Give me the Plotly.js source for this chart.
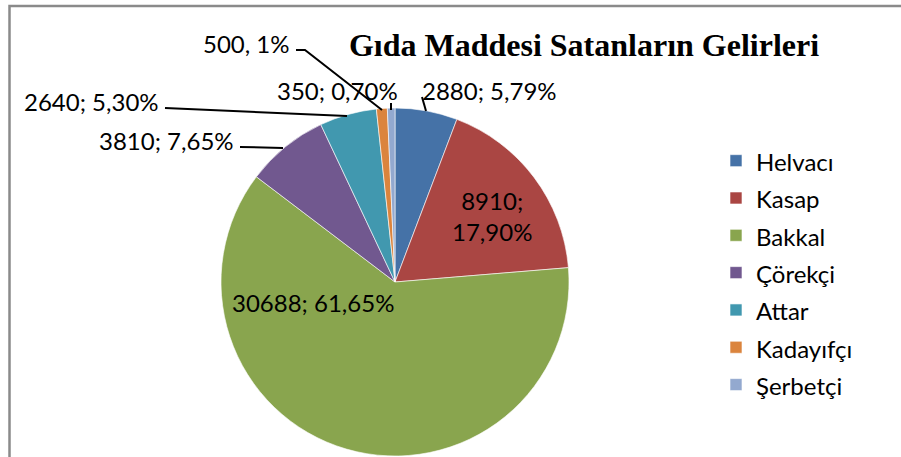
<!DOCTYPE html>
<html>
<head>
<meta charset="utf-8">
<script src="https://cdn.plot.ly/plotly-3.0.1.min.js"></script>
<style>html,body{margin:0;padding:0;background:#fff;}#chart{width:901px;height:457px;}</style>
</head>
<body>
<div id="chart"></div>
<script>
// ---- data ----
var categories = ["Helvacı", "Kasap", "Bakkal", "Çörekçi", "Attar", "Kadayıfçı", "Şerbetçi"];
var values = [2880, 8910, 30688, 3810, 2640, 500, 350];
var percentLabels = ["5,79%", "17,90%", "61,65%", "7,65%", "5,30%", "1%", "0,70%"];
var separators = [";", ";<br>", ";", ";", ";", ",", ";"];
var colors = ["#4572A7", "#AA4643", "#89A54E", "#71588F", "#4198AF", "#DB843D", "#93A9CF"];

var W = 901, H = 457;
function px(x) { return x / W; }
function py(y) { return 1 - y / H; }

// label centres (pixels) and leader lines
var labelPos = [[490, 90], [492, 216], [313, 302], [166, 140], [91, 101], [246, 43], [337, 90]];
var leaders = [
  [[422, 97], [426, 111]],
  null,
  null,
  [[240, 147], [283, 148]],
  [[165, 108], [347, 116]],
  [[296, 50], [305, 50], [382, 110]],
  [[391, 103], [391, 110]]
];

var annotations = categories.map(function (c, i) {
  var sep = separators[i];
  var txt = values[i] + sep + (sep.indexOf("<br>") >= 0 ? "" : " ") + percentLabels[i];
  return {
    xref: "paper", yref: "paper",
    x: px(labelPos[i][0]), y: py(labelPos[i][1]),
    xanchor: "center", yanchor: "middle",
    text: txt, showarrow: false,
    font: {family: "Lato, 'Open Sans', sans-serif", size: 24, color: "#000"}
  };
});

var shapes = [{
  type: "rect", xref: "paper", yref: "paper",
  x0: px(9.5), x1: 1.05, y0: -0.05, y1: py(6),
  line: {color: "#8a8a8a", width: 2.5}, fillcolor: "rgba(0,0,0,0)", layer: "below"
}];
leaders.forEach(function (pts) {
  if (!pts) return;
  var d = pts.map(function (p, k) { return (k ? "L" : "M") + px(p[0]) + "," + py(p[1]); }).join(" ");
  shapes.push({type: "path", xref: "paper", yref: "paper", path: d, line: {color: "#000", width: 2}});
});

var trace = {
  type: "pie",
  labels: categories.map(function (c) { return '<span style="font-size:24px">' + c + '</span>'; }),
  values: values,
  sort: false,
  direction: "clockwise",
  rotation: 0,
  textinfo: "none",
  hoverinfo: "label+value+percent",
  marker: {colors: colors, line: {color: "rgba(255,255,255,0.6)", width: 1}},
  domain: {x: [px(221), px(569)], y: [py(456), py(108)]}
};

var layout = {
  width: W, height: H,
  margin: {l: 0, r: 0, t: 0, b: 0},
  paper_bgcolor: "#fff",
  plot_bgcolor: "#fff",
  title: {
    text: "<b>Gıda Maddesi Satanların Gelirleri</b>",
    font: {family: "'Liberation Serif', 'Times New Roman', serif", size: 32, color: "#000"},
    x: px(584), xanchor: "center", xref: "paper",
    y: py(45), yanchor: "middle", yref: "paper"
  },
  showlegend: true,
  legend: {
    x: px(716), xanchor: "left",
    y: py(137), yanchor: "top",
    font: {family: "Lato, 'Open Sans', sans-serif", size: 26.4, color: "#000"},
    bgcolor: "rgba(0,0,0,0)", borderwidth: 0
  },
  annotations: annotations,
  shapes: shapes
};

Plotly.newPlot("chart", [trace], layout, {displayModeBar: false, staticPlot: true});
</script>
</body>
</html>
